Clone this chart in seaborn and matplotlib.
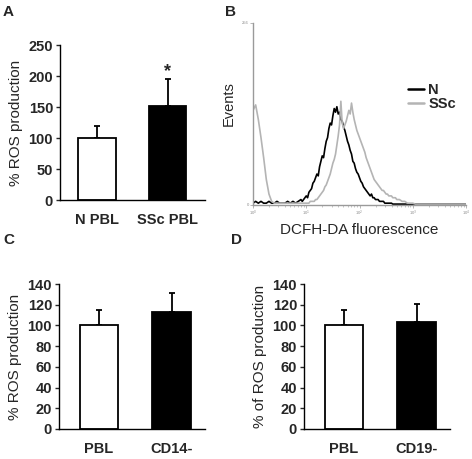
import matplotlib
matplotlib.use("Agg")
import matplotlib.pyplot as plt
import numpy as np
import pandas as pd
import seaborn as sns

sns.set_style("white")
plt.rcParams["font.family"] = ["Liberation Sans", "DejaVu Sans"]

# Panel A
a_groups = ["N PBL", "SSc PBL"]
a_means = [100, 151]
a_errs = [20, 44]

# Panel C
c_groups = ["PBL", "CD14-"]
c_means = [100, 113]
c_errs = [15, 18]

# Panel D
d_groups = ["PBL", "CD19-"]
d_means = [100, 103]
d_errs = [15, 18]

# Panel B: flow histogram (log10 fluorescence, events in % of axis height)
b_decades = [0.00, 0.05, 0.10, 0.15, 0.20, 0.25, 0.30, 0.35, 0.40, 0.45,
             0.50, 0.55, 0.60, 0.65, 0.70, 0.75, 0.80, 0.85,
             0.900, 0.925, 0.950, 0.975, 1.000, 1.025, 1.050, 1.075,
             1.100, 1.125, 1.150, 1.175, 1.200, 1.225, 1.250, 1.275,
             1.300, 1.325, 1.350, 1.375, 1.400, 1.425, 1.450, 1.475,
             1.500, 1.525, 1.550, 1.575, 1.600, 1.625, 1.650, 1.675,
             1.700, 1.725, 1.750, 1.775, 1.800, 1.825, 1.850, 1.875,
             1.900, 1.925, 1.950, 1.975, 2.000, 2.025, 2.050, 2.075,
             2.100, 2.125, 2.150, 2.175, 2.200, 2.225, 2.250, 2.275,
             2.300, 2.325, 2.350, 2.375, 2.400, 2.425, 2.450, 2.475,
             2.500, 2.525, 2.550, 2.575, 2.600, 2.625, 2.650, 2.675, 2.700,
             2.75, 2.80, 2.85, 2.90, 2.95, 3.00, 3.05, 3.10, 3.15, 3.20,
             3.25, 3.30, 3.35, 3.40, 3.45, 3.50, 3.55, 3.60, 3.65, 3.70,
             3.75, 3.80, 3.85, 3.90, 3.95, 4.00]
b_normal = [1, 2, 1, 2, 1, 1, 2, 1, 1, 2,
            1, 1, 1, 2, 1, 2, 1, 2,
            3, 2, 3, 4, 5, 4, 7, 8,
            9, 12, 13, 15, 17, 16, 21, 24,
            27, 26, 31, 35, 37, 42, 45, 44,
            49, 53, 51, 54, 50, 51, 47, 46,
            43, 41, 38, 35, 33, 30, 28, 24,
            23, 20, 18, 17, 15, 13, 12, 10,
            9, 8, 7, 6, 5, 6, 4, 4,
            3, 3, 3, 2, 2, 2, 2, 1,
            1, 1, 1, 1, 1, 0.5, 0.5, 0.5, 0.5,
            0.5, 0.5, 0.5, 0.5, 0.5, 0.5, 0.5, 0.5, 0.5, 0.5,
            0.5, 0.5, 0.5, 0.5, 0.5, 0.5, 0.5, 0.5, 0.5, 0.5,
            0.5, 0.5, 0.5, 0.5, 0.5, 0.5]
b_ssc = [52, 55, 47, 37, 26, 14, 6, 2, 1, 1,
         1, 1, 1, 1, 1, 1, 1, 1,
         1, 1, 1, 1, 1, 1, 1, 2,
         2, 2, 2, 3, 3, 4, 5, 6,
         7, 8, 10, 11, 13, 15, 17, 20,
         23, 25, 28, 33, 38, 44, 57, 45,
         42, 44, 46, 49, 52, 50, 56, 51,
         47, 44, 41, 39, 37, 35, 33, 31,
         29, 26, 24, 22, 20, 18, 16, 14,
         13, 12, 11, 10, 9, 8, 8, 7,
         6, 6, 5, 5, 5, 4, 4, 4, 3,
         3, 2, 2, 1, 1, 1, 0.5, 0.5, 0.5, 0.5,
         0.5, 0.5, 0.5, 0.5, 0.5, 0.5, 0.5, 0.5, 0.5, 0.5,
         0.5, 0.5, 0.5, 0.5, 0.5, 0.5]

W, H = 472, 459
fig = plt.figure(figsize=(W / 100, H / 100), dpi=100)


def axes_px(left, top, right, bottom):
    return fig.add_axes([left / W, 1 - bottom / H, (right - left) / W, (bottom - top) / H])


def bar_panel(ax, groups, means, errs, ymax, ystep, ylabel, xlim):
    df = pd.DataFrame({"group": groups, "value": means})
    sns.barplot(data=df, x="group", y="value", hue="group",
                palette=["white", "black"], edgecolor="black", linewidth=1.3,
                width=0.53, saturation=1, legend=False, errorbar=None, ax=ax)
    ax.errorbar(range(len(means)), means, yerr=[np.zeros(len(errs)), errs],
                fmt="none", ecolor="black", elinewidth=1.3, capsize=2.5,
                capthick=1.3, zorder=0)
    ax.set_ylim(0, ymax)
    ax.set_xlim(*xlim)
    ax.set_yticks(np.arange(0, ymax + 1, ystep))
    for s in ["top", "right"]:
        ax.spines[s].set_visible(False)
    for s in ["left", "bottom"]:
        ax.spines[s].set_color("black")
        ax.spines[s].set_linewidth(1.0)
    ax.tick_params(axis="y", left=True, length=3, width=1, pad=2, labelsize=10.5)
    ax.tick_params(axis="x", bottom=False, pad=6, labelsize=10.5)
    for lab in ax.get_xticklabels() + ax.get_yticklabels():
        lab.set_fontweight("bold")
    ax.set_xlabel("")
    ax.set_ylabel(ylabel, fontsize=11)


# A
axA = axes_px(60, 45, 205, 200)
bar_panel(axA, a_groups, a_means, a_errs, 250, 50, "% ROS production", (-0.52, 1.53))
axA.text(1, a_means[1] + a_errs[1] + 12, "*", ha="center", va="center",
         fontsize=13, fontweight="bold")

# C
axC = axes_px(59, 284, 205, 429)
bar_panel(axC, c_groups, c_means, c_errs, 140, 20, "% ROS production", (-0.55, 1.46))

# D
axD = axes_px(304, 284, 450, 429)
bar_panel(axD, d_groups, d_means, d_errs, 140, 20, "% of ROS production", (-0.55, 1.46))

# B
axB = axes_px(253, 23, 466, 205)
hist = pd.DataFrame({
    "fluo": np.power(10.0, b_decades),
    "N": b_normal,
    "SSc": b_ssc,
})
long = hist.melt(id_vars="fluo", var_name="group", value_name="events")
sns.lineplot(data=long, x="fluo", y="events", hue="group",
             palette={"N": "black", "SSc": "#b4b4b4"}, linewidth=1.2,
             ax=axB, legend=False)
axB.set_xscale("log")
axB.set_xlim(1, 1e4)
axB.set_ylim(0, 100)
for s in ["top", "right"]:
    axB.spines[s].set_visible(False)
for s in ["left", "bottom"]:
    axB.spines[s].set_color("#9a9a9a")
    axB.spines[s].set_linewidth(1.0)
axB.set_xticks([1, 10, 100, 1000, 10000])
axB.set_xticklabels(["10$^0$", "10$^1$", "10$^2$", "10$^3$", "10$^4$"])
axB.set_yticks([0, 100])
axB.set_yticklabels(["0", "256"])
axB.tick_params(axis="both", which="major", labelsize=3, length=2, width=0.5,
                color="#9a9a9a", labelcolor="#8a8a8a", pad=1, bottom=True, left=True)
axB.tick_params(axis="x", which="minor", length=1.2, width=0.4, color="#9a9a9a",
                bottom=True)
axB.set_xlabel("DCFH-DA fluorescence", fontsize=11, labelpad=3)
axB.set_ylabel("Events", fontsize=10.5)
axB.yaxis.set_label_coords(-0.08, 0.56)
axB.plot([], [], color="black", lw=1.8, label="N")
axB.plot([], [], color="#b4b4b4", lw=1.8, label="SSc")
leg = axB.legend(loc="upper left", bbox_to_anchor=(0.70, 0.70), frameon=False,
                 handlelength=1.1, handletextpad=0.3, labelspacing=0.0,
                 borderaxespad=0, prop={"weight": "bold", "size": 10.5})

# panel letters
for letter, x, y in [("A", 8, 12), ("B", 231, 12), ("C", 9, 240), ("D", 236, 240)]:
    fig.text(x / W, 1 - y / H, letter, ha="center", va="center",
             fontsize=11, fontweight="bold")

fig.savefig("out.png", dpi=100)
